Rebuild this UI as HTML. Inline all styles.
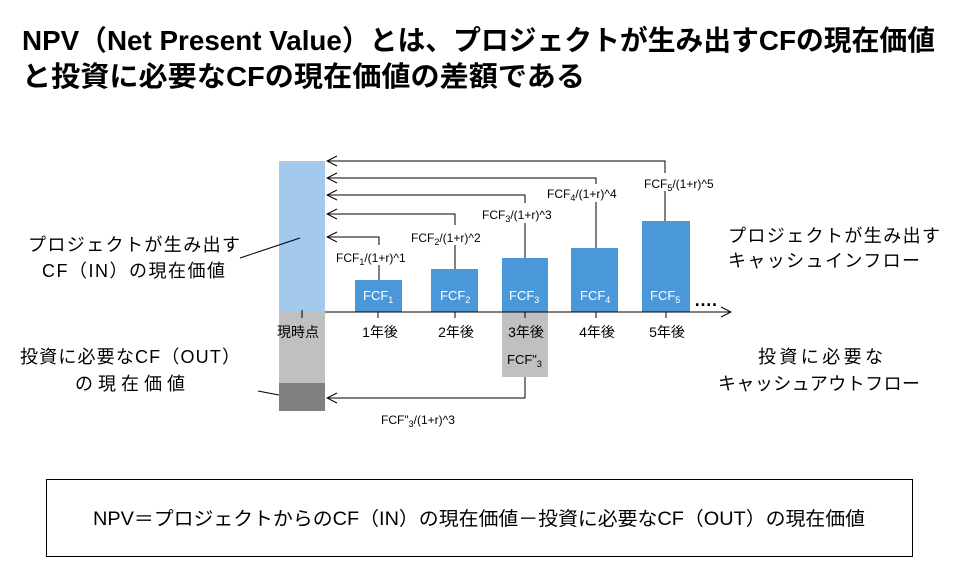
<!DOCTYPE html>
<html><head><meta charset="utf-8"><style>
body{margin:0;background:#fff;width:962px;height:581px;overflow:hidden}
svg{display:block}
text{font-family:"Liberation Sans","Noto Sans CJK JP",sans-serif}
</style></head><body>
<svg width="962" height="581" viewBox="0 0 962 581">
<defs><marker id="a" markerWidth="12" markerHeight="12" refX="11" refY="6" orient="auto" markerUnits="userSpaceOnUse"><path d="M1,1 L11,6 L1,11" fill="none" stroke="#000" stroke-width="1"/></marker></defs>
<text x="22" y="50" font-size="28" font-weight="bold" textLength="913" lengthAdjust="spacingAndGlyphs">NPV（Net Present Value）とは、プロジェクトが生み出すCFの現在価値</text>
<text x="22" y="86" font-size="28" font-weight="bold" textLength="563" lengthAdjust="spacingAndGlyphs">と投資に必要なCFの現在価値の差額である</text>
<rect x="279" y="161" width="46" height="150" fill="#a3c9ec"/>
<rect x="279" y="311" width="46" height="72" fill="#c0c0c0"/>
<rect x="279" y="383" width="46" height="28" fill="#808080"/>
<rect x="502" y="312" width="46" height="65" fill="#c0c0c0"/>
<g fill="#4a98da"><rect x="355" y="280" width="47" height="32"/><rect x="431" y="269" width="47" height="43"/><rect x="502" y="258" width="46" height="54"/><rect x="571" y="248" width="47" height="64"/><rect x="642" y="221" width="48" height="91"/></g>
<line x1="325" y1="312" x2="731" y2="312" stroke="#000" marker-end="url(#a)"/>
<g stroke="#000"><line x1="302" y1="310" x2="302" y2="318"/><line x1="378" y1="312" x2="378" y2="318"/><line x1="455" y1="312" x2="455" y2="318"/><line x1="525" y1="312" x2="525" y2="318"/><line x1="596" y1="312" x2="596" y2="318"/><line x1="666" y1="312" x2="666" y2="318"/></g>
<g stroke="#000" fill="none">
<path d="M665,221 V161 H327" marker-end="url(#a)"/>
<path d="M596,248 V178 H327" marker-end="url(#a)"/>
<path d="M525,258 V195 H327" marker-end="url(#a)"/>
<path d="M455,269 V214 H327" marker-end="url(#a)"/>
<path d="M379,280 V237 H327" marker-end="url(#a)"/>
<path d="M525,377 V398 H327" marker-end="url(#a)"/>
<line x1="240" y1="258" x2="300" y2="238"/>
<line x1="258" y1="391" x2="279" y2="395"/>
</g>
<g fill="#fff" stroke="none"><rect x="333" y="245" width="90" height="20"/><rect x="408" y="225" width="90" height="20"/><rect x="478" y="203" width="94" height="20"/><rect x="545" y="184" width="90" height="18"/><rect x="640" y="173" width="90" height="18"/></g>
<g font-size="12">
<text x="336" y="262">FCF<tspan font-size="9" dy="3">1</tspan><tspan dy="-3">/(1+r)^1</tspan></text>
<text x="411" y="242">FCF<tspan font-size="9" dy="3">2</tspan><tspan dy="-3">/(1+r)^2</tspan></text>
<text x="482" y="219">FCF<tspan font-size="9" dy="3">3</tspan><tspan dy="-3">/(1+r)^3</tspan></text>
<text x="547" y="198">FCF<tspan font-size="9" dy="3">4</tspan><tspan dy="-3">/(1+r)^4</tspan></text>
<text x="644" y="188">FCF<tspan font-size="9" dy="3">5</tspan><tspan dy="-3">/(1+r)^5</tspan></text>
<text x="381" y="424">FCF"<tspan font-size="9" dy="3">3</tspan><tspan dy="-3">/(1+r)^3</tspan></text>
</g>
<g font-size="13" fill="#fff">
<text x="363" y="300">FCF<tspan font-size="9" dy="3">1</tspan></text>
<text x="440" y="300">FCF<tspan font-size="9" dy="3">2</tspan></text>
<text x="509" y="300">FCF<tspan font-size="9" dy="3">3</tspan></text>
<text x="580" y="300">FCF<tspan font-size="9" dy="3">4</tspan></text>
<text x="650" y="300">FCF<tspan font-size="9" dy="3">5</tspan></text>
</g>
<text x="507" y="364" font-size="13">FCF"<tspan font-size="9" dy="3">3</tspan></text>
<g font-size="14" text-anchor="middle">
<text x="298" y="337">現時点</text><text x="380" y="337">1年後</text><text x="456" y="337">2年後</text><text x="526" y="337">3年後</text><text x="597" y="337">4年後</text><text x="667" y="337">5年後</text>
</g>
<text x="694" y="306" font-size="18" font-weight="bold">….</text>
<g font-size="18" lengthAdjust="spacingAndGlyphs">
<text x="28" y="251" textLength="212">プロジェクトが生み出す</text>
<text x="42" y="277" textLength="183">CF（IN）の現在価値</text>
<text x="20" y="363" textLength="220">投資に必要なCF（OUT）</text>
<text x="75" y="390" textLength="110">の現在価値</text>
<text x="728" y="242" textLength="212">プロジェクトが生み出す</text>
<text x="728" y="267" textLength="192">キャッシュインフロー</text>
<text x="758" y="363" textLength="125">投資に必要な</text>
<text x="718" y="390" textLength="202">キャッシュアウトフロー</text>
</g>
<rect x="46.5" y="479.5" width="866" height="77" fill="none" stroke="#000"/>
<text x="93" y="525" font-size="19" textLength="772" lengthAdjust="spacingAndGlyphs">NPV＝プロジェクトからのCF（IN）の現在価値－投資に必要なCF（OUT）の現在価値</text>
</svg>
</body></html>
